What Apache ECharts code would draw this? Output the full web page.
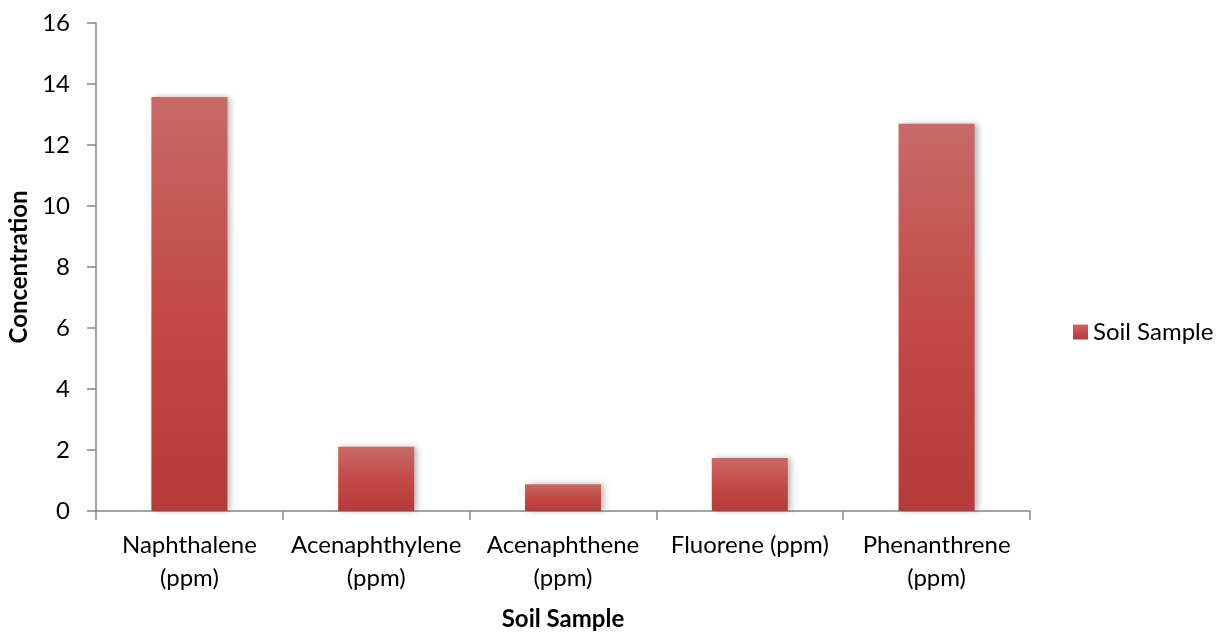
<!DOCTYPE html>
<html>
<head>
<meta charset="utf-8">
<script src="https://cdn.jsdelivr.net/npm/echarts@6/dist/echarts.min.js"></script>
<style>html,body{margin:0;padding:0;background:#fff}#c{width:1224px;height:633px}</style>
</head>
<body>
<div id="c"></div>
<script>
const categories = ['Naphthalene\n(ppm)', 'Acenaphthylene\n(ppm)', 'Acenaphthene\n(ppm)', 'Fluorene (ppm)', 'Phenanthrene\n(ppm)'];
const soilSample = [13.57, 2.11, 0.88, 1.74, 12.7];
const seriesName = 'Soil Sample';
const xTitle = 'Soil Sample';
const yTitle = 'Concentration';
const yMin = 0, yMax = 16, yInterval = 2;

const FONT = 'Lato, Carlito, "Open Sans", sans-serif';
const chart = echarts.init(document.getElementById('c'));
chart.setOption({
  backgroundColor: '#fff',
  animation: false,
  grid: { left: 96, right: 194, top: 23, bottom: 122, containLabel: false, outerBoundsMode: 'none' },
  legend: {
    data: [seriesName],
    left: 1068, top: 315,
    orient: 'vertical',
    icon: 'rect', itemWidth: 15, itemHeight: 15, itemGap: 6,
    textStyle: { fontFamily: FONT, fontSize: 24, color: '#000' }
  },
  xAxis: {
    type: 'category',
    data: categories,
    name: xTitle,
    nameLocation: 'middle',
    nameGap: 96,
    nameTextStyle: { fontFamily: FONT, fontSize: 24, fontWeight: 'bold', color: '#000' },
    axisLine: { lineStyle: { color: '#868686', width: 1.5 } },
    axisTick: { show: true, length: 9, lineStyle: { color: '#868686', width: 1.5 } },
    axisLabel: { fontFamily: FONT, fontSize: 24, color: '#000', margin: 18, lineHeight: 33, interval: 0 }
  },
  yAxis: {
    type: 'value',
    min: yMin, max: yMax, interval: yInterval,
    name: yTitle,
    nameLocation: 'middle',
    nameGap: 64,
    nameTextStyle: { fontFamily: FONT, fontSize: 24, fontWeight: 'bold', color: '#000' },
    axisLine: { show: true, lineStyle: { color: '#868686', width: 1.5 } },
    axisTick: { show: true, length: 9, lineStyle: { color: '#868686', width: 1.5 } },
    axisLabel: { fontFamily: FONT, fontSize: 24, color: '#000', margin: 26 },
    splitLine: { show: false }
  },
  series: [{
    name: seriesName,
    type: 'bar',
    data: soilSample,
    barWidth: '40.7%',
    itemStyle: {
      color: new echarts.graphic.LinearGradient(0, 0, 0, 1, [
        { offset: 0, color: '#C76A67' },
        { offset: 0.5, color: '#C34A47' },
        { offset: 1, color: '#B43B39' }
      ]),
      shadowColor: 'rgba(0,0,0,0.28)',
      shadowBlur: 6,
      shadowOffsetX: 3,
      shadowOffsetY: 0
    }
  }]
});
</script>
</body>
</html>
